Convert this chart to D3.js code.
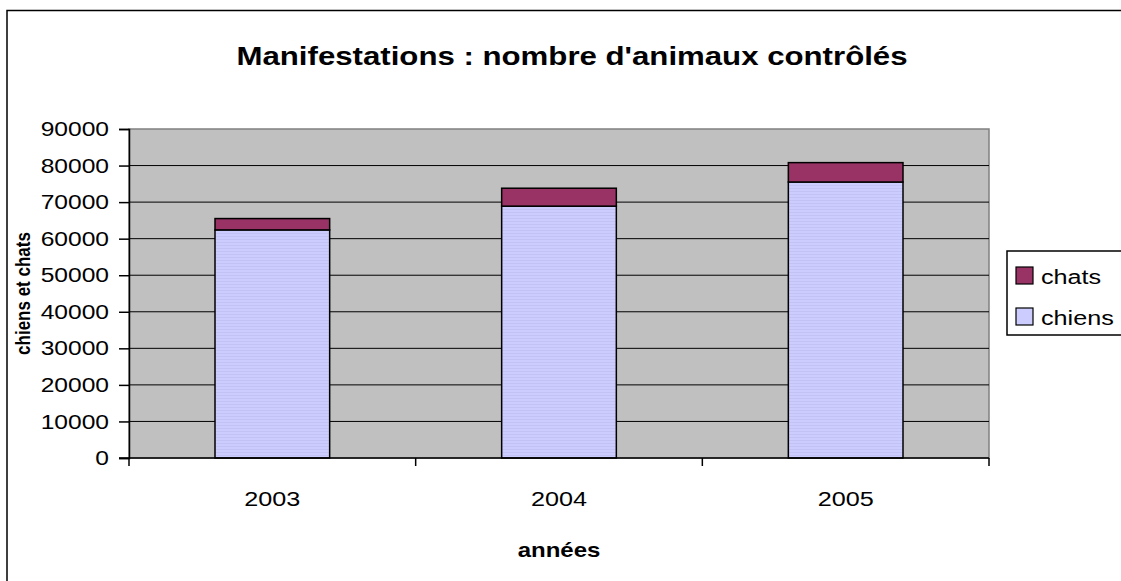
<!DOCTYPE html>
<html>
<head>
<meta charset="utf-8">
<script src="https://cdn.jsdelivr.net/npm/d3@7"></script>
<style>
  body { margin: 0; background: #fff; }
  text { font-family: "Liberation Sans", Arial, sans-serif; }
</style>
</head>
<body>
<script>
// données
const years = ["2003", "2004", "2005"];
const chiens = [62400, 68900, 75500];
const chats = [3100, 4900, 5300];
const yTicks = [0, 10000, 20000, 30000, 40000, 50000, 60000, 70000, 80000, 90000];

const W = 1121, H = 581;
const m = { left: 129, right: 989, top: 129, bottom: 458 };
const sx = 1.2; // le graphique d'origine est étiré horizontalement

const svg = d3.select("body").append("svg")
    .attr("width", W)
    .attr("height", H);

// texte étiré
function label(g, x, y, txt, size, bold, anchor) {
    return g.append("text")
        .attr("transform", "translate(" + x + "," + y + ") scale(" + sx + ",1)")
        .attr("text-anchor", anchor || "middle")
        .attr("font-size", size + "px")
        .attr("font-weight", bold ? "bold" : "normal")
        .text(txt);
}

// motif rayé pour les chiens
const defs = svg.append("defs");
const pat = defs.append("pattern")
    .attr("id", "stripes")
    .attr("patternUnits", "userSpaceOnUse")
    .attr("width", 4)
    .attr("height", 3);
pat.append("rect").attr("width", 4).attr("height", 3).attr("fill", "#CCCCFF");
pat.append("rect").attr("y", 2).attr("width", 4).attr("height", 1).attr("fill", "#C2C2F4");

// cadre extérieur
svg.append("rect")
    .attr("x", 7).attr("y", 10.5)
    .attr("width", W + 10).attr("height", H + 10)
    .attr("fill", "white")
    .attr("stroke", "#000")
    .attr("stroke-width", 1.5);

const x = d3.scaleBand()
    .domain(years)
    .range([m.left, m.right]);

const y = d3.scaleLinear()
    .domain([0, 90000])
    .range([m.bottom, m.top]);

// zone de tracé
svg.append("rect")
    .attr("x", m.left).attr("y", m.top)
    .attr("width", m.right - m.left).attr("height", m.bottom - m.top)
    .attr("fill", "#C0C0C0")
    .attr("stroke", "#808080")
    .attr("stroke-width", 1.5);

// grille
svg.selectAll(".grid")
    .data(yTicks.filter(d => d > 0 && d < 90000))
    .enter()
    .append("line")
    .attr("x1", m.left).attr("x2", m.right)
    .attr("y1", d => y(d)).attr("y2", d => y(d))
    .attr("stroke", "#000")
    .attr("stroke-width", 1);

// barres
const bw = x.bandwidth() / 2.5;
const stack = years.map((yr, i) => ({ yr: yr, chiens: chiens[i], chats: chats[i] }));

svg.selectAll(".chiens")
    .data(stack)
    .enter()
    .append("rect")
    .attr("x", d => x(d.yr) + (x.bandwidth() - bw) / 2)
    .attr("y", d => y(d.chiens))
    .attr("width", bw)
    .attr("height", d => y(0) - y(d.chiens))
    .attr("fill", "url(#stripes)")
    .attr("stroke", "#000")
    .attr("stroke-width", 1.5);

svg.selectAll(".chats")
    .data(stack)
    .enter()
    .append("rect")
    .attr("x", d => x(d.yr) + (x.bandwidth() - bw) / 2)
    .attr("y", d => y(d.chiens + d.chats))
    .attr("width", bw)
    .attr("height", d => y(d.chiens) - y(d.chiens + d.chats))
    .attr("fill", "#993366")
    .attr("stroke", "#000")
    .attr("stroke-width", 1.5);

// axe y
const yAxis = d3.axisLeft(y)
    .tickValues(yTicks)
    .tickSize(10)
    .tickPadding(6)
    .tickFormat(d3.format("d"));
const gy = svg.append("g")
    .attr("transform", "translate(" + m.left + ",0)")
    .call(yAxis);
gy.select(".domain").attr("stroke", "#000").attr("stroke-width", 1.5);
gy.selectAll(".tick line").attr("stroke-width", 1.5);
gy.selectAll("text")
    .attr("font-size", "20.5px")
    .attr("fill", "#000")
    .attr("font-family", "Liberation Sans, Arial, sans-serif")
    .attr("x", -20 / sx)
    .attr("transform", "scale(" + sx + ",1)");

// axe x
const gx = svg.append("g")
    .attr("transform", "translate(0," + m.bottom + ")");
gx.append("line")
    .attr("x1", m.left - 10).attr("x2", m.right)
    .attr("stroke", "#000").attr("stroke-width", 1.5);
gx.selectAll(".xtick")
    .data(years.concat(["end"]))
    .enter()
    .append("line")
    .attr("x1", d => d === "end" ? m.right : x(d))
    .attr("x2", d => d === "end" ? m.right : x(d))
    .attr("y1", 0).attr("y2", 8)
    .attr("stroke", "#000").attr("stroke-width", 1.5);
years.forEach(d => label(gx, x(d) + x.bandwidth() / 2, 48, d, 21, false));

// titres
label(svg, 572, 65, "Manifestations : nombre d'animaux contrôlés", 26, true);
label(svg, (m.left + m.right) / 2, 557, "années", 20, true);

svg.append("text")
    .attr("transform", "translate(30," + (m.top + m.bottom) / 2 + ") rotate(-90) scale(1," + sx + ")")
    .attr("text-anchor", "middle")
    .attr("font-size", "17px")
    .attr("font-weight", "bold")
    .text("chiens et chats");

// légende
const leg = svg.append("g");
leg.append("rect")
    .attr("x", 1007).attr("y", 251)
    .attr("width", 130).attr("height", 84)
    .attr("fill", "white")
    .attr("stroke", "#000")
    .attr("stroke-width", 1.5);

const legItems = [
    { name: "chats", fill: "#993366" },
    { name: "chiens", fill: "#CCCCFF" }
];
leg.selectAll(".item")
    .data(legItems)
    .enter()
    .append("rect")
    .attr("x", 1016)
    .attr("y", (d, i) => 267 + i * 41)
    .attr("width", 17).attr("height", 17)
    .attr("fill", d => d.fill)
    .attr("stroke", "#000")
    .attr("stroke-width", 1.2);
legItems.forEach((d, i) => label(leg, 1041, 284 + i * 41, d.name, 21, false, "start"));
</script>
</body>
</html>
